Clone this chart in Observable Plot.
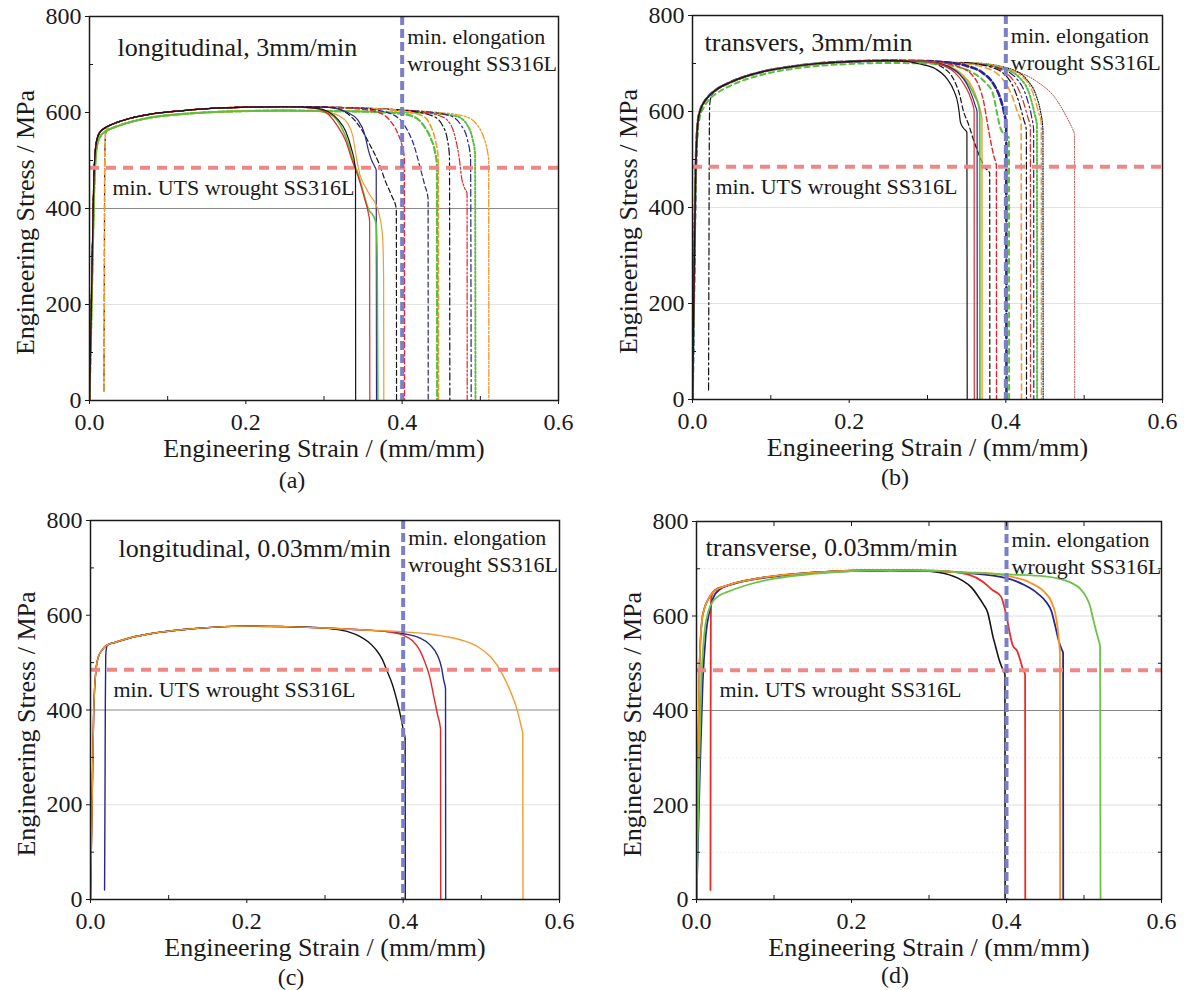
<!DOCTYPE html>
<html><head><meta charset="utf-8">
<script src="https://cdn.jsdelivr.net/npm/d3@7"></script>
<script src="https://cdn.jsdelivr.net/npm/@observablehq/plot@0.6"></script>
<style>
html,body{margin:0;padding:0;background:#fff;}
#root{position:relative;width:1184px;height:990px;overflow:hidden;font-family:"Liberation Serif",serif;color:#1a1a1a;}
.panel{position:absolute;}
.cap{position:absolute;font-size:24px;transform:translate(-50%,-50%);white-space:nowrap;}
</style></head><body><div id="root"></div>
<script>
// ================= DATA =================
const xTicks = [0, 0.2, 0.4, 0.6];
const xMinor = [0.1, 0.3, 0.5];
const yTicks = [0, 200, 400, 600, 800];
const yMinor = [100, 300, 500, 700];
const minUTS = 485;      // MPa, min. UTS wrought SS316L
const minElong = 0.40;   // mm/mm, min. elongation wrought SS316L
const titles = ["longitudinal, 3mm/min", "transvers, 3mm/min", "longitudinal, 0.03mm/min", "transverse, 0.03mm/min"];
const captions = ["(a)", "(b)", "(c)", "(d)"];
const xLabel = "Engineering Strain / (mm/mm)";
const yLabel = "Engineering Stress / MPa";
const elongLabel = "min. elongation\nwrought SS316L";
const utsLabel = "min. UTS wrought SS316L";

// ---- panel (a): longitudinal, 3 mm/min  [strain, stress] ----
const aHeadHi = [[0,0],[0.003,250],[0.006,480],[0.009,540],[0.013,558],[0.02,568],[0.03,576],[0.05,587],[0.08,597],[0.12,604],[0.16,609],[0.2,611],[0.25,612],[0.3,611],[0.35,609],[0.4,605],[0.45,600],[0.48,596]];
const aHeadLo = [[0,0],[0.003,220],[0.006,440],[0.009,525],[0.013,548],[0.02,560],[0.03,568],[0.05,579],[0.08,590],[0.12,597],[0.16,601],[0.2,603],[0.25,604],[0.3,603],[0.35,602],[0.4,600]];
const aStartOff = [[0.0185,20],[0.019,260],[0.0195,500],[0.0205,555],[0.023,568],[0.027,574]];
const aTails = [
  [[0.29,609],[0.305,602],[0.318,585],[0.328,560],[0.335,525],[0.3395,492],[0.3403,480],[0.3405,0]],
  [[0.29,608],[0.305,597],[0.318,570],[0.328,540],[0.336,500],[0.345,460],[0.352,420],[0.3565,392],[0.3584,372],[0.3586,0]],
  [[0.29,603],[0.31,594],[0.322,570],[0.331,535],[0.337,500],[0.344,470],[0.351,430],[0.357,398],[0.363,385],[0.3665,370],[0.368,300],[0.3689,0]],
  [[0.3,602],[0.318,594],[0.33,578],[0.337,550],[0.341,510],[0.346,470],[0.353,445],[0.36,425],[0.366,410],[0.371,385],[0.375,340],[0.3763,250],[0.3765,0]],
  [[0.31,610],[0.33,600],[0.343,585],[0.352,555],[0.357,520],[0.361,500],[0.365,487],[0.3668,480],[0.3672,0]],
  [[0.31,610],[0.328,600],[0.345,572],[0.358,535],[0.37,495],[0.379,455],[0.387,425],[0.3925,400],[0.3928,0]],
  [[0.34,608],[0.37,600],[0.385,582],[0.394,558],[0.4,530],[0.4028,505],[0.403,0]],
  [[0.36,607],[0.39,594],[0.405,568],[0.415,532],[0.423,485],[0.429,448],[0.4332,420],[0.4333,0]],
  [[0.38,600],[0.41,594],[0.426,576],[0.436,548],[0.442,518],[0.4445,490],[0.4448,0]],
  [[0.39,605],[0.425,594],[0.437,570],[0.443,538],[0.4462,505],[0.4465,0]],
  [[0.4,605],[0.44,592],[0.452,572],[0.458,542],[0.4605,510],[0.461,0]],
  [[0.41,604],[0.45,592],[0.463,572],[0.469,540],[0.473,505],[0.476,465],[0.48,442],[0.483,432],[0.4832,0]],
  [[0.42,603],[0.46,594],[0.476,572],[0.484,540],[0.4875,505],[0.4883,0]],
  [[0.43,599],[0.47,592],[0.484,572],[0.49,545],[0.4932,515],[0.4938,0]],
  [[0.44,601],[0.48,592],[0.497,572],[0.505,545],[0.509,520],[0.5107,500],[0.5109,0]]
];
const aHeadOf  = [0,0,1,1,0,0,0,0,1,0,0,0,0,1,0];   // 0 = aHeadHi, 1 = aHeadLo
const aStartOf = [0,0,0,0,0,0,0,0,0,1,1,0,0,0,0];   // 1 = starts at aStartOff

// ---- panel (b): transverse, 3 mm/min ----
const bHead = [[0,0],[0.002,250],[0.004,470],[0.007,580],[0.01,603],[0.015,620],[0.022,634],[0.03,645],[0.05,662],[0.087,682],[0.12,692],[0.16,700],[0.2,704],[0.25,706],[0.3,705],[0.33,702],[0.37,697],[0.4,690],[0.43,680]];
const bHeadLo = [[0,0],[0.002,230],[0.004,440],[0.007,565],[0.01,592],[0.015,610],[0.022,626],[0.03,637],[0.05,655],[0.087,676],[0.12,687],[0.16,695],[0.2,699],[0.25,701],[0.3,700]];
const bStartOff = [[0.0205,20],[0.021,300],[0.0215,560],[0.022,615],[0.024,632],[0.028,642]];
const bTails = [
  [[0.27,705],[0.29,699],[0.31,689],[0.325,668],[0.334,642],[0.339,615],[0.3405,598],[0.342,578],[0.346,565],[0.3503,557],[0.3507,0]],
  [[0.3,704],[0.32,696],[0.335,681],[0.345,661],[0.353,637],[0.3575,616],[0.3595,602],[0.3597,0]],
  [[0.3,704],[0.325,695],[0.34,679],[0.35,658],[0.357,632],[0.361,612],[0.3633,600],[0.3635,0]],
  [[0.3,702],[0.325,694],[0.342,677],[0.353,655],[0.361,630],[0.3655,610],[0.3667,598],[0.3669,0]],
  [[0.3,704],[0.33,693],[0.345,676],[0.357,651],[0.364,622],[0.368,598],[0.3695,585],[0.3697,0]],
  [[0.3,703],[0.32,691],[0.334,665],[0.341,635],[0.346,600],[0.352,575],[0.36,535],[0.367,505],[0.374,482],[0.3794,472],[0.3796,0]],
  [[0.31,703],[0.34,693],[0.357,676],[0.366,652],[0.372,618],[0.376,580],[0.381,535],[0.385,505],[0.3879,488],[0.3881,0]],
  [[0.32,703],[0.35,695],[0.37,681],[0.384,658],[0.393,627],[0.398,596],[0.4005,572],[0.4008,0]],
  [[0.31,699],[0.34,692],[0.36,679],[0.374,660],[0.383,640],[0.387,612],[0.3895,590],[0.393,566],[0.399,551],[0.404,546],[0.4042,0]],
  [[0.33,702],[0.37,693],[0.394,671],[0.408,632],[0.415,598],[0.4195,577],[0.42,0]],
  [[0.34,702],[0.38,693],[0.404,667],[0.417,618],[0.423,582],[0.4262,562],[0.4264,0]],
  [[0.34,702],[0.385,692],[0.409,666],[0.422,622],[0.428,588],[0.4313,567],[0.4315,0]],
  [[0.35,701],[0.39,691],[0.414,668],[0.427,627],[0.433,588],[0.4355,562],[0.4357,0]],
  [[0.35,701],[0.395,690],[0.419,668],[0.431,632],[0.437,593],[0.4397,572],[0.4399,0]],
  [[0.36,701],[0.4,690],[0.424,668],[0.436,632],[0.442,597],[0.4452,577],[0.4454,0]],
  [[0.36,701],[0.405,689],[0.427,666],[0.439,632],[0.444,602],[0.4474,562],[0.4476,0]],
  [[0.33,702],[0.37,697],[0.4,689],[0.438,664],[0.464,626],[0.479,584],[0.4855,562],[0.4877,552],[0.4879,0]]
];
const bHeadOf  = [0,0,0,0,0,0,0,0,1,0,0,0,0,0,0,0,0];
const bStartOf = [0,0,0,0,0,0,0,0,0,0,1,0,0,0,0,0,0];

// ---- panel (c): longitudinal, 0.03 mm/min ----
const cHead = [[0,0],[0.002,200],[0.004,390],[0.007,485],[0.01,512],[0.015,527],[0.02,536],[0.03,542],[0.05,552],[0.08,562],[0.12,570],[0.16,575],[0.2,577],[0.25,576],[0.3,573],[0.35,569],[0.4,565],[0.45,557]];
const cStartOff = [[0.018,20],[0.0185,200],[0.019,420],[0.0195,515],[0.021,535],[0.025,540]];
const cTails = [
  [[0.4,565],[0.43,561],[0.455,555],[0.478,546],[0.496,533],[0.51,515],[0.52,495],[0.528,472],[0.537,440],[0.545,405],[0.5515,362],[0.553,350],[0.5533,0]],
  [[0.28,575],[0.31,571],[0.33,565],[0.345,555],[0.356,543],[0.365,528],[0.373,508],[0.38,480],[0.386,455],[0.392,420],[0.397,385],[0.4005,355],[0.4025,340],[0.4027,0]],
  [[0.36,568],[0.385,564],[0.4,558],[0.412,546],[0.421,527],[0.428,500],[0.434,470],[0.439,430],[0.444,390],[0.4478,360],[0.448,0]],
  [[0.37,567],[0.4,561],[0.42,553],[0.434,538],[0.444,515],[0.449,490],[0.452,462],[0.4542,445],[0.4544,0]]
];
const cHeadOf  = [0,0,0,0];
const cStartOf = [0,0,0,1];

// ---- panel (d): transverse, 0.03 mm/min ----
const dHead = [[0,0],[0.002,300],[0.004,500],[0.007,590],[0.01,615],[0.015,635],[0.02,648],[0.025,655],[0.035,662],[0.05,670],[0.08,680],[0.12,688],[0.16,693],[0.2,696],[0.25,697],[0.3,696],[0.35,692],[0.4,688],[0.45,684],[0.47,681]];
const dHeadGreen = [[0,0],[0.003,250],[0.006,450],[0.01,560],[0.015,608],[0.02,628],[0.025,638],[0.03,644],[0.04,651],[0.06,663],[0.1,679],[0.15,689],[0.2,695],[0.25,697],[0.3,696],[0.35,692],[0.4,688]];
const dHeadNavy = [[0,0],[0.004,250],[0.008,460],[0.012,560],[0.017,612],[0.022,640],[0.03,656],[0.05,669],[0.08,679],[0.12,687],[0.16,692],[0.2,695],[0.25,696],[0.3,695],[0.35,691]];
const dStartOff = [[0.018,20],[0.0182,300],[0.0185,590],[0.019,638],[0.022,652],[0.028,659]];
const dTails = [
  [[0.4,688],[0.45,684],[0.47,678],[0.485,669],[0.495,658],[0.503,640],[0.508,620],[0.512,592],[0.516,566],[0.519,548],[0.5208,535],[0.5213,0]],
  [[0.36,692],[0.41,682],[0.43,671],[0.448,652],[0.458,630],[0.463,605],[0.466,575],[0.4678,545],[0.469,520],[0.4692,0]],
  [[0.35,691],[0.4,680],[0.42,668],[0.44,648],[0.452,628],[0.458,610],[0.463,578],[0.467,550],[0.471,530],[0.473,522],[0.4732,0]],
  [[0.29,696],[0.32,690],[0.342,676],[0.355,660],[0.362,645],[0.37,625],[0.376,606],[0.3795,580],[0.382,560],[0.386,535],[0.391,505],[0.395,488],[0.398,476],[0.3982,0]],
  [[0.32,695],[0.35,688],[0.37,672],[0.381,656],[0.393,641],[0.397,620],[0.4,600],[0.404,565],[0.408,538],[0.414,525],[0.418,505],[0.421,488],[0.424,476],[0.4242,0]]
];
const dHeadOf  = [1,0,2,0,0];   // 0 = dHead, 1 = dHeadGreen, 2 = dHeadNavy
const dStartOf = [0,0,0,0,1];

// ================= STYLES / LAYOUT =================
const K = "#141414", R = "#e4262a", G = "#5cbf3c", O = "#f29b30", N = "#26268c", DR = "#b5443f";
const DASH = "5,3", DDOT = "7,3,2,3", DDD = "7,2,2,2,2,2";
const aStyles = [
  {c:K},{c:R},{c:G,w:1.6},{c:O},{c:N},
  {c:K,d:DASH},{c:R,d:DASH,w:1.4},{c:N,d:DASH},{c:G,d:"6,3",w:2.2},{c:O,d:"6,3",w:1.6},
  {c:K,d:DDOT},{c:R,d:DDD},{c:N,d:DDOT},{c:G,d:"2,2",w:2},{c:O,d:DDD,w:1.4}
];
const bStyles = [
  {c:K},{c:R},{c:N},{c:G,w:1.8},{c:O,w:1.4},
  {c:K,d:DASH},{c:R,d:DASH,w:1.4},{c:N,d:"6,3",w:2.6},{c:G,d:"5,4",w:2},{c:O,d:"6,4",w:1.6},
  {c:K,d:DDOT},{c:R,d:DDOT},{c:N,d:DDOT},{c:G,d:"2,2",w:2},{c:O,d:DDOT,w:1.4},{c:K,d:"1,1.5"},{c:DR,d:"1,1.5",w:1}
];
const cStyles = [{c:O,w:1.4},{c:K,w:1.4},{c:R,w:1.4},{c:N,w:1.4}];
const dStyles = [{c:"#6cc24a",w:1.8},{c:"#f7931e",w:1.8},{c:N,w:1.8},{c:K,w:1.6},{c:"#f02a2a",w:1.8}];

function build(head, start, tail) {
  const pts = [];
  const s = start || [];
  pts.push(...s);
  const sx = s.length ? s[s.length - 1][0] : -Infinity;
  const tx = tail[0][0];
  for (const p of head) if (p[0] > sx && p[0] < tx) pts.push(p);
  pts.push(...tail);
  return pts.map(([x, y]) => ({x, y}));
}

const panels = [
  {left:0, top:0, w:590, h:470, m:[16,32,70,89], heads:[aHeadHi,aHeadLo], start:aStartOff, tails:aTails, headOf:aHeadOf, startOf:aStartOf, styles:aStyles,
   title:titles[0], tdx:28, tdy:31, edy:32, grid:[{v:200,c:"#e2e2e2"},{v:400,c:"#8a8a8a"}], cap:[292,480], mirror:false},
  {left:600, top:0, w:584, h:470, m:[15,22,71,92], heads:[bHead,bHeadLo], start:bStartOff, tails:bTails, headOf:bHeadOf, startOf:bStartOf, styles:bStyles,
   title:titles[1], tdx:12, tdy:27, edy:32, grid:[{v:200,c:"#e2e2e2"},{v:400,c:"#e2e2e2"},{v:600,c:"#e2e2e2"}], cap:[895,477], mirror:false},
  {left:0, top:500, w:590, h:470, m:[20,31,71,90], heads:[cHead], start:cStartOff, tails:cTails, headOf:cHeadOf, startOf:cStartOf, styles:cStyles,
   title:titles[2], tdx:28, tdy:28, edy:29, grid:[{v:200,c:"#e2e2e2"},{v:400,c:"#8a8a8a"}], cap:[291,977], mirror:false},
  {left:600, top:500, w:584, h:470, m:[21,23,71,96], heads:[dHead,dHeadGreen,dHeadNavy], start:dStartOff, tails:dTails, headOf:dHeadOf, startOf:dStartOf, styles:dStyles,
   title:titles[3], tdx:9, tdy:26, edy:30,
   grid:[{v:100,c:"#ececec",d:"2,2"},{v:300,c:"#ececec",d:"2,2"},{v:500,c:"#ececec",d:"2,2"},{v:700,c:"#e6e6e6",d:"2,2"},{v:200,c:"#dcdcdc"},{v:600,c:"#dcdcdc"},{v:400,c:"#8a8a8a"}],
   cap:[895,975], mirror:true}
];

const root = document.getElementById("root");
const FONT = "Liberation Serif";
const empty = () => "";

panels.forEach((p, pi) => {
  const marks = [];
  for (const g of p.grid) marks.push(Plot.ruleY([g.v], {stroke:g.c, strokeWidth:1, strokeDasharray:g.d}));
  const order = p.tails.map((_, i) => i).reverse();
  for (const i of order) {
    const pts = build(p.heads[p.headOf[i]], p.startOf[i] ? p.start : null, p.tails[i]);
    const s = p.styles[i];
    marks.push(Plot.line(pts, {x:"x", y:"y", stroke:s.c, strokeWidth:s.w || 1.2, strokeDasharray:s.d, curve:"monotone-x", clip:true}));
  }
  marks.push(Plot.ruleY([minUTS], {stroke:"#f08787", strokeWidth:4, strokeDasharray:"10,7"}));
  marks.push(Plot.ruleX([minElong], {stroke:"#7b7fc6", strokeWidth:4, strokeDasharray:"9,4"}));
  marks.push(Plot.frame({stroke:"#1a1a1a", strokeWidth:1.5}));
  // ticks
  marks.push(Plot.axisX(xTicks, {tickSize:4, tickFormat:empty, label:null}));
  marks.push(Plot.axisX(xMinor, {tickSize:-4, tickFormat:empty, label:null}));
  marks.push(Plot.axisY(yTicks, {tickSize:4, tickFormat:empty, label:null}));
  marks.push(Plot.axisY(yMinor, {tickSize:-4, tickFormat:empty, label:null}));
  if (p.mirror) {
    marks.push(Plot.axisY(yTicks.concat(yMinor), {anchor:"right", tickSize:-4, tickFormat:empty, label:null}));
    marks.push(Plot.axisX(xTicks.concat(xMinor), {anchor:"top", tickSize:-4, tickFormat:empty, label:null}));
  }
  marks.push(Plot.axisX(xTicks, {tickSize:0, tickPadding:12, tickFormat:d3.format(".1f"), fontSize:24, label:null}));
  marks.push(Plot.axisY(yTicks, {tickSize:0, tickPadding:8, tickFormat:d3.format("d"), fontSize:24, label:null}));
  // texts
  marks.push(Plot.text([p.title], {text:d=>d, frameAnchor:"top-left", dx:p.tdx, dy:p.tdy, textAnchor:"start", lineAnchor:"middle", fontSize:26}));
  marks.push(Plot.text([elongLabel], {text:d=>d, x:[minElong], frameAnchor:"top", dx:5, dy:p.edy, textAnchor:"start", lineAnchor:"middle", lineHeight:1.23, fontSize:22}));
  marks.push(Plot.text([utsLabel], {text:d=>d, y:[minUTS], frameAnchor:"left", dx:23, dy:20, textAnchor:"start", lineAnchor:"middle", fontSize:22}));
  marks.push(Plot.text([xLabel], {text:d=>d, frameAnchor:"bottom", dy:48, textAnchor:"middle", lineAnchor:"middle", fontSize:26}));
  marks.push(Plot.text([yLabel], {text:d=>d, frameAnchor:"left", dx:-64, dy:14, rotate:-90, textAnchor:"middle", lineAnchor:"middle", fontSize:26}));

  const svg = Plot.plot({
    width:p.w, height:p.h,
    marginTop:p.m[0], marginRight:p.m[1], marginBottom:p.m[2], marginLeft:p.m[3],
    x:{domain:[0,0.6], label:null},
    y:{domain:[0,800], label:null},
    style:{fontFamily:FONT, fontSize:"24px", color:"#1a1a1a", background:"transparent", overflow:"visible"},
    marks
  });
  const div = document.createElement("div");
  div.className = "panel";
  div.style.left = p.left + "px";
  div.style.top = p.top + "px";
  div.appendChild(svg);
  root.appendChild(div);

  const cap = document.createElement("div");
  cap.className = "cap";
  cap.style.left = p.cap[0] + "px";
  cap.style.top = p.cap[1] + "px";
  cap.textContent = captions[pi];
  root.appendChild(cap);
});
</script>
</body></html>
